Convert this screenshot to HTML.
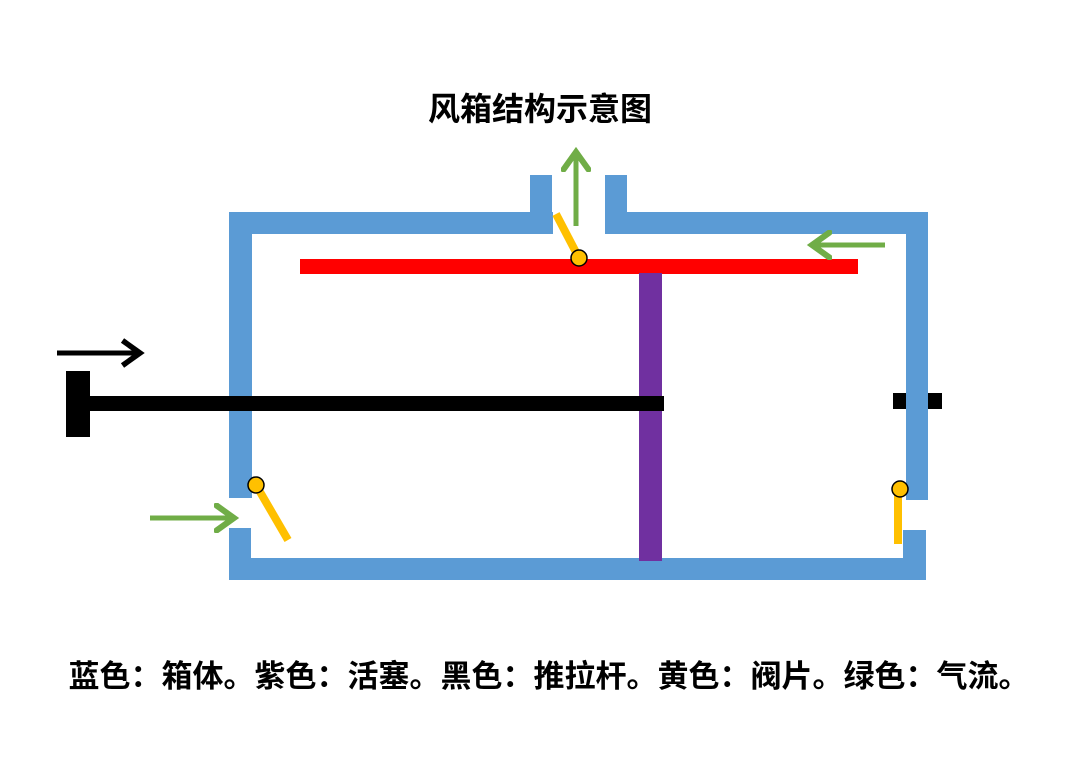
<!DOCTYPE html>
<html><head><meta charset="utf-8"><style>
html,body{margin:0;padding:0;background:#fff;}
body{width:1080px;height:766px;overflow:hidden;position:relative;}
.t{position:absolute;left:0;width:1080px;text-align:center;font-family:"Liberation Sans","Noto Sans CJK SC",sans-serif;font-weight:bold;color:#000;white-space:nowrap;}
</style></head><body>
<svg width="1080" height="766" style="position:absolute;left:0;top:0">
<defs>
<marker id="g" markerWidth="6" markerHeight="6" refX="4" refY="3" orient="auto" markerUnits="strokeWidth"><path d="M0.5,0.5 L4,3 L0.5,5.5" fill="none" stroke="#70ad47" stroke-width="1.2" stroke-linecap="round"/></marker>
<marker id="k" markerWidth="6" markerHeight="6" refX="4" refY="3" orient="auto" markerUnits="strokeWidth"><path d="M0.5,0.5 L4,3 L0.5,5.5" fill="none" stroke="#000" stroke-width="1.1"/></marker>
</defs>
<g fill="#5b9bd5">
<rect x="229" y="212" width="324" height="22"/>
<rect x="530" y="175" width="22" height="59"/>
<rect x="605" y="175" width="22" height="59"/>
<rect x="605" y="212" width="323" height="22"/>
<rect x="229" y="212" width="23" height="286"/>
<rect x="229" y="528" width="22" height="52"/>
<rect x="229" y="558" width="697" height="22"/>
<rect x="893" y="393" width="49" height="16" fill="#000"/>
<rect x="906" y="212" width="22" height="288"/>
<rect x="903" y="530" width="23" height="50"/>
</g>
<rect x="300" y="259" width="558" height="15" fill="#ff0000"/>
<rect x="639" y="273" width="23" height="288" fill="#7030a0"/>
<rect x="90" y="396" width="574" height="15" fill="#000"/>
<rect x="66" y="371" width="24" height="66" fill="#000"/>
<line x1="57" y1="353" x2="140" y2="353" stroke="#000" stroke-width="5" marker-end="url(#k)"/>
<line x1="576" y1="226" x2="576" y2="152" stroke="#70ad47" stroke-width="5" marker-end="url(#g)"/>
<line x1="885" y1="245" x2="812" y2="245" stroke="#70ad47" stroke-width="5" marker-end="url(#g)"/>
<line x1="150" y1="518" x2="234" y2="518" stroke="#70ad47" stroke-width="5" marker-end="url(#g)"/>
<g stroke="#ffc000" stroke-width="8">
<line x1="556" y1="214" x2="579" y2="258"/>
<line x1="256" y1="485" x2="288" y2="540"/>
<line x1="898" y1="489" x2="898" y2="544"/>
</g>
<g fill="#ffc000" stroke="#000" stroke-width="1.5">
<circle cx="579" cy="258" r="8"/>
<circle cx="256" cy="485" r="8"/>
<circle cx="900" cy="489" r="8"/>
</g>
</svg>
<div class="t" style="top:84px;font-size:32px;font-weight:600;">风箱结构示意图</div>
<div class="t" style="top:651px;font-size:31px;left:9px;">蓝色：箱体。紫色：活塞。黑色：推拉杆。黄色：阀片。绿色：气流。</div>
</body></html>
